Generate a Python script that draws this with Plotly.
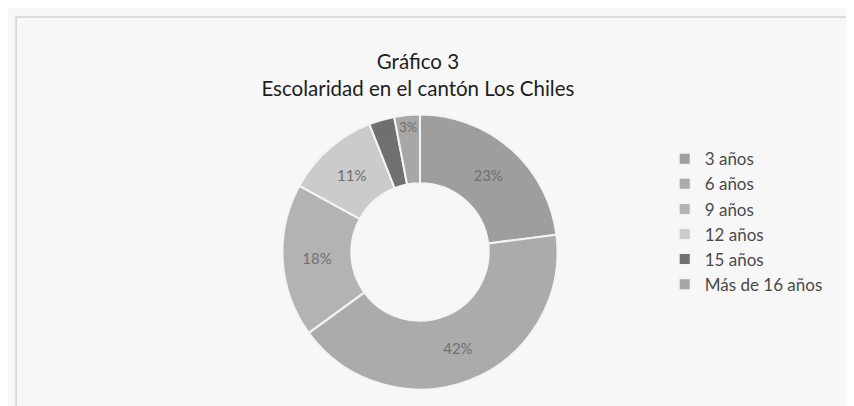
import plotly.graph_objects as go

categories = ["3 años", "6 años", "9 años", "12 años", "15 años", "Más de 16 años"]
values = [23, 42, 18, 11, 3, 3]
colors = ["#9e9e9e", "#ababab", "#b3b3b3", "#cbcbcb", "#707070", "#a7a7a7"]

fig = go.Figure(go.Pie(
    labels=categories,
    values=values,
    hole=0.5,
    sort=False,
    direction="clockwise",
    rotation=0,
    marker=dict(colors=colors, line=dict(color="#f4f4f4", width=2)),
    texttemplate="%{percent:.0%}",
    textposition="inside",
    insidetextorientation="horizontal",
    textfont=dict(family="Lato", size=15, color="#6f6f6f"),
    domain=dict(x=[0.3214, 0.6434], y=[0.060, 0.738]),
    hoverinfo="label+percent",
))

fig.update_layout(
    width=854, height=406,
    margin=dict(l=0, r=0, t=0, b=0),
    paper_bgcolor="#f7f7f7",
    plot_bgcolor="#f7f7f7",
    title=dict(
        text="Gráfico 3<br>Escolaridad en el cantón Los Chiles",
        x=0.48, xanchor="center", y=0.85, yanchor="middle",
        font=dict(family="Lato", size=20.5, color="#1e1e1e"),
    ),
    legend=dict(
        x=0.769, y=0.672, xanchor="left", yanchor="top",
        font=dict(family="Lato", size=17, color="#4a4a4a"),
        bgcolor="rgba(0,0,0,0)",
        itemwidth=30,
    ),
    shapes=[dict(type="rect", xref="paper", yref="paper", x0=0.0095, x1=1.2, y0=-0.2, y1=0.978,
                 line=dict(color="#d4d4d4", width=1.5), fillcolor="rgba(0,0,0,0)")],
)

fig.write_html("out.html")
